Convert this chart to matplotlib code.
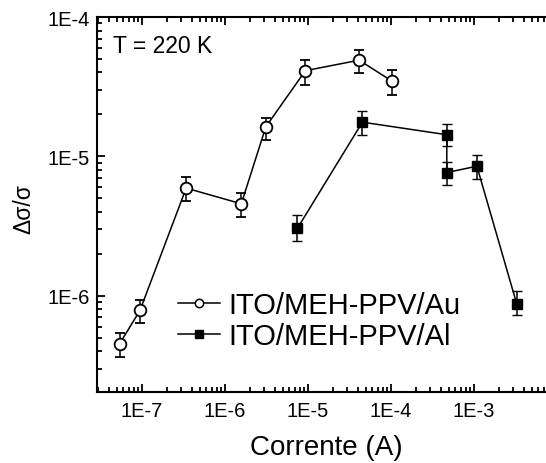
import numpy as np
import matplotlib
matplotlib.use("Agg")
import matplotlib.pyplot as plt
from matplotlib.lines import Line2D
from matplotlib.ticker import LogLocator, FuncFormatter, NullFormatter

plt.rcParams['font.family'] = ['Liberation Sans', 'DejaVu Sans']

# ITO/MEH-PPV/Au device
au_current = [5.4e-8, 9.5e-8, 3.42e-7, 1.58e-6, 3.12e-6, 9.35e-6, 4.15e-5, 1.03e-4]
au_signal = [4.53e-7, 7.85e-7, 5.92e-6, 4.57e-6, 1.63e-5, 4.12e-5, 4.9e-5, 3.47e-5]
au_upper = [5.41e-7, 9.4e-7, 7.1e-6, 5.45e-6, 1.9e-5, 4.94e-5, 5.83e-5, 4.19e-5]
au_lower = [3.64e-7, 6.37e-7, 4.8e-6, 3.66e-6, 1.3e-5, 3.26e-5, 3.97e-5, 2.76e-5]

# ITO/MEH-PPV/Al device
al_current = [7.5e-6, 4.55e-5, 4.73e-4, 4.73e-4, 1.09e-3, 3.3e-3]
al_signal = [3.05e-6, 1.76e-5, 1.43e-5, 7.66e-6, 8.5e-6, 8.7e-7]
al_upper = [3.77e-6, 2.11e-5, 1.72e-5, 9.18e-6, 1.02e-5, 1.08e-6]
al_lower = [2.48e-6, 1.43e-5, 1.18e-5, 6.28e-6, 6.9e-6, 7.23e-7]

labels = ["ITO/MEH-PPV/Au", "ITO/MEH-PPV/Al"]

fig = plt.figure(figsize=(5.46, 4.64), dpi=100)
# the plot box runs slightly past the right edge of the canvas
ax = fig.add_axes([0.1777, 0.1537, 0.8390, 0.8075])

def yerr(sig, lo, hi):
    s = np.array(sig)
    return [s - np.array(lo), np.array(hi) - s]

ax.errorbar(au_current, au_signal, yerr=yerr(au_signal, au_lower, au_upper),
            fmt='o', color='black', mfc='white', mec='black', mew=1.3,
            ms=8.4, lw=1.1, elinewidth=1.1, capsize=3.4, capthick=1.1,
            linestyle='-', zorder=3)
ax.errorbar(al_current, al_signal, yerr=yerr(al_signal, al_lower, al_upper),
            fmt='s', color='black', mfc='black', mec='black', mew=1.0,
            ms=7.8, lw=1.1, elinewidth=1.1, capsize=3.4, capthick=1.1,
            linestyle='-', zorder=3)

ax.set_xscale('log')
ax.set_yscale('log')
ax.set_xlim(10 ** -7.54, 10 ** -2.02)
ax.set_ylim(2.05e-7, 1e-4)

fmt = FuncFormatter(lambda v, p: "1E%d" % int(round(np.log10(v))))
for axis in (ax.xaxis, ax.yaxis):
    axis.set_major_locator(LogLocator(base=10, numticks=20))
    axis.set_minor_locator(LogLocator(base=10, subs=np.arange(2, 10), numticks=20))
    axis.set_major_formatter(fmt)
    axis.set_minor_formatter(NullFormatter())

ax.tick_params(which='both', direction='in', top=True, right=True, width=1.3,
               labelsize=14.5, colors='black')
ax.tick_params(which='major', length=6)
ax.tick_params(which='minor', length=3.5)
ax.tick_params(axis='x', which='major', pad=7)
ax.tick_params(axis='y', which='major', pad=5)
for sp in ax.spines.values():
    sp.set_linewidth(1.5)

ax.set_xlabel("Corrente (A)", fontsize=20, labelpad=10)
ax.set_ylabel("Δσ/σ", fontsize=16.5)
ax.yaxis.set_label_coords(-0.135, 0.49)

ax.text(0.035, 0.955, "T = 220 K", transform=ax.transAxes, fontsize=16.5,
        ha='left', va='top')

handles = [
    Line2D([], [], color='black', lw=1.1, marker='o', mfc='white', mec='black',
           ms=6.0, mew=1.1),
    Line2D([], [], color='black', lw=1.1, marker='s', mfc='black', mec='black',
           ms=5.2),
]
ax.legend(handles, labels, loc='upper left', bbox_to_anchor=(178 / 546, 1 - 292 / 464),
          bbox_transform=fig.transFigure, frameon=False, fontsize=21,
          handlelength=1.45, handletextpad=0.28, borderpad=0, borderaxespad=0,
          labelspacing=0.1)

fig.savefig("out.png", dpi=100)
